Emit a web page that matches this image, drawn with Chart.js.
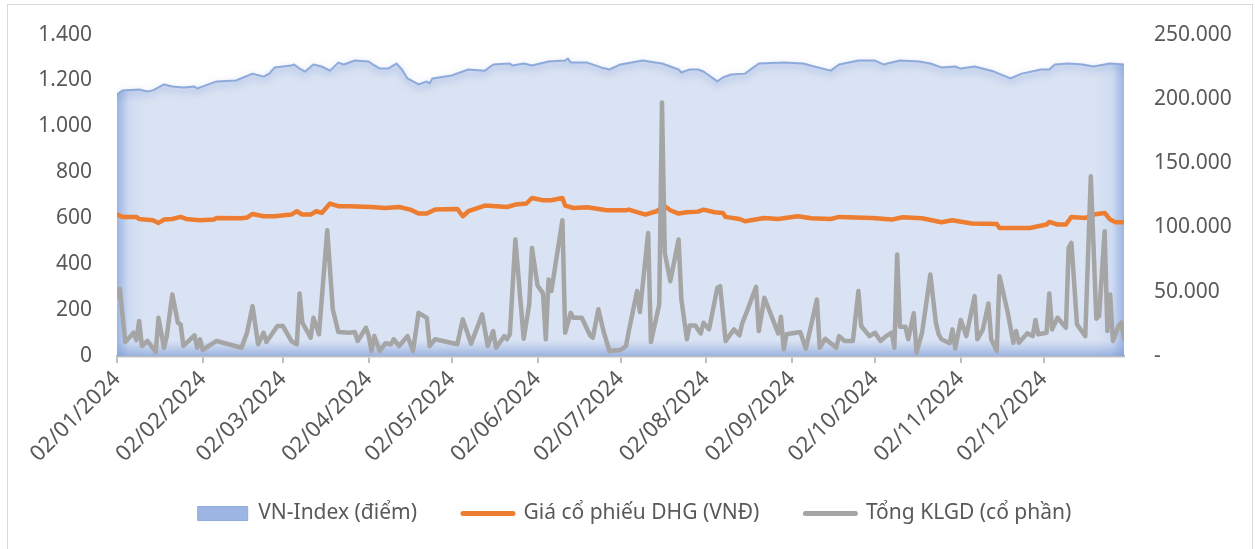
<!DOCTYPE html>
<html>
<head>
<meta charset="utf-8">
<script src="https://cdn.jsdelivr.net/npm/chart.js@4.4.1/dist/chart.umd.min.js"></script>
<style>
  html, body { margin: 0; padding: 0; background: #fff; }
  #wrap { position: relative; width: 1255px; height: 549px; overflow: hidden; }
  #frame { position: absolute; left: 7px; top: 4px; width: 1246px; height: 580px; border: 1.5px solid #d9d9d9; box-sizing: border-box; }
  canvas { position: absolute; left: 0; top: 0; }
</style>
</head>
<body>
<div id="wrap">
  <div id="frame"></div>
  <canvas id="chart" width="1255" height="549"></canvas>
</div>
<script>
// x values: days counted from 02/01/2024
const tickLabels = ["02/01/2024", "02/02/2024", "02/03/2024", "02/04/2024", "02/05/2024", "02/06/2024",
    "02/07/2024", "02/08/2024", "02/09/2024", "02/10/2024", "02/11/2024", "02/12/2024"];

const vnDays = [0, 2, 8, 11, 13, 17, 20, 24, 28, 29, 33, 36, 43, 49, 53, 55, 57, 63, 64, 66, 68, 71, 74, 77, 80,
    82, 86, 91, 92, 95, 98, 101, 103, 105, 109, 112, 113, 114, 121, 127, 133, 136, 142, 143, 147, 150, 156, 162,
    163, 164, 170, 175, 178, 182, 190, 197, 203, 204, 207, 210, 212, 217, 219, 222, 227, 232, 241, 248, 252, 258,
    261, 268, 274, 277, 283, 290, 294, 298, 303, 305, 310, 317, 323, 327, 334, 337, 339, 344, 349, 353, 359, 364];
const vnIndex = [1139, 1157, 1161, 1152, 1157, 1183, 1174, 1170, 1174, 1165, 1183, 1196, 1200, 1230, 1217, 1230,
    1257, 1265, 1270, 1252, 1239, 1270, 1261, 1243, 1278, 1270, 1287, 1283, 1274, 1252, 1252, 1274, 1248, 1209,
    1183, 1196, 1187, 1209, 1222, 1248, 1243, 1270, 1274, 1265, 1274, 1265, 1283, 1287, 1296, 1278, 1278, 1257,
    1248, 1270, 1287, 1274, 1248, 1235, 1248, 1248, 1239, 1196, 1213, 1226, 1230, 1274, 1278, 1274, 1261, 1243,
    1270, 1287, 1287, 1270, 1287, 1283, 1274, 1257, 1261, 1252, 1261, 1239, 1209, 1230, 1248, 1248, 1270, 1274,
    1270, 1261, 1274, 1270];

const dhgDays = [0, 2, 7, 8, 13, 15, 17, 20, 23, 25, 30, 35, 36, 45, 47, 49, 53, 57, 63, 65, 67, 70, 72, 74, 77,
    80, 84, 92, 97, 102, 106, 109, 112, 115, 123, 125, 127, 133, 141, 144, 148, 150, 154, 157, 161, 162, 165, 170,
    177, 184, 185, 191, 195, 198, 200, 203, 206, 210, 212, 216, 219, 220, 225, 227, 234, 239, 246, 251, 258, 261,
    273, 280, 284, 291, 298, 302, 309, 318, 319, 330, 336, 337, 340, 343, 345, 350, 353, 357, 359, 361, 364];
const dhgPrice = [110000, 108200, 108200, 106600, 105600, 103500, 106100, 106600, 108200, 106600, 105600, 106100,
    107400, 107100, 107700, 110500, 108700, 108700, 110000, 112600, 110000, 110000, 112600, 111300, 118600, 116500,
    116500, 115900, 115100, 115900, 113900, 110800, 110800, 113900, 114400, 108700, 112600, 117000, 115900, 117800,
    118600, 122900, 121100, 121100, 122900, 117000, 115100, 115700, 113400, 113400, 113900, 110000, 112600, 116500,
    113400, 110800, 111800, 112300, 113900, 111800, 111300, 108200, 106600, 104800, 107400, 106600, 108700, 107100,
    106600, 108200, 107400, 106100, 107900, 107100, 104000, 105600, 103000, 102700, 99600, 99600, 102300, 104300,
    102300, 102300, 108200, 107400, 110000, 111300, 106100, 104000, 104000];

const klgdDays = [0, 1, 3, 5, 6, 7, 8, 9, 11, 14, 15, 17, 18, 20, 22, 23, 24, 28, 29, 30, 31, 36, 45, 47, 49, 51,
    53, 54, 58, 60, 63, 65, 66, 67, 70, 71, 73, 76, 78, 80, 84, 86, 87, 90, 91, 92, 93, 95, 97, 99, 100, 102, 105,
    107, 109, 112, 113, 115, 123, 125, 128, 132, 134, 136, 137, 140, 141, 142, 144, 147, 149, 150, 152, 154, 155,
    156, 157, 161, 162, 164, 165, 168, 171, 172, 174, 176, 178, 182, 184, 185, 188, 189, 192, 193, 196, 197, 198,
    200, 203, 204, 206, 207, 209, 211, 212, 214, 217, 218, 220, 223, 225, 226, 228, 231, 232, 234, 239, 240, 241,
    242, 247, 249, 253, 254, 256, 260, 261, 263, 266, 268, 269, 272, 274, 276, 278, 280, 281, 282, 283, 285, 286,
    288, 289, 291, 294, 296, 297, 298, 301, 302, 303, 305, 307, 310, 311, 313, 315, 316, 318, 319, 322, 324, 325,
    326, 329, 331, 332, 333, 336, 337, 338, 340, 343, 344, 345, 347, 350, 352, 354, 355, 357, 358, 359, 360, 362,
    363, 364];
const klgdVolume = [46600, 52300, 10900, 15500, 18100, 12400, 27200, 7800, 11700, 3100, 29700, 6400, 15500, 47900,
    25900, 24600, 7800, 16100, 6400, 13000, 4700, 11700, 6400, 18100, 38800, 9100, 18100, 10900, 23300, 23300, 11700,
    9100, 48700, 25900, 14200, 29700, 16900, 97800, 36300, 18600, 18100, 18600, 11700, 22000, 15500, 3900, 15500,
    3900, 9900, 9100, 13000, 7800, 15500, 3900, 33600, 29700, 7800, 13000, 9100, 28500, 9500, 32400, 7800, 19400,
    6400, 15500, 13000, 16900, 90600, 13400, 40100, 84100, 54900, 48700, 13000, 59600, 50500, 105600, 18100, 33600,
    29700, 29700, 16100, 14200, 36300, 18100, 3900, 4700, 7800, 19400, 50500, 34200, 95700, 10900, 40100, 197200,
    80200, 58200, 90600, 44000, 13000, 23800, 23800, 17600, 25900, 20700, 53000, 54400, 11700, 20700, 16100, 25400,
    36300, 53800, 19400, 45300, 17600, 30500, 5200, 16900, 18600, 5700, 44000, 6400, 13400, 6400, 15500, 11700,
    11700, 50500, 23300, 15500, 18100, 11700, 15500, 18100, 6400, 79000, 22800, 22800, 13000, 33200, 2600, 18100,
    63400, 25900, 16900, 13000, 9900, 20700, 5700, 28000, 15500, 46600, 13000, 20700, 40900, 13000, 3900, 62100,
    33600, 10300, 19400, 10300, 17600, 15500, 28000, 16900, 18100, 48700, 20700, 29700, 22000, 84100, 88000, 24600,
    15500, 139800, 29000, 31100, 97100, 19400, 47900, 11700, 23300, 25900, 13400];

const seriesNames = ["VN-Index (điểm)", "Giá cổ phiếu DHG (VNĐ)", "Tổng KLGD (cổ phần)"];

const dayOf = s => {
    const [d, m, y] = s.split("/").map(Number);
    return (Date.UTC(y, m - 1, d) - Date.UTC(2024, 0, 2)) / 864e5;
};
const tickDays = tickLabels.map(dayOf);
const toPoints = (days, vals) => days.map((d, i) => ({ x: d, y: vals[i] }));
const dots = v => String(v).replace(/\B(?=(\d{3})+(?!\d))/g, ".");

const textColor = "#595959";
Chart.defaults.font.family = "'Noto Sans', sans-serif";
Chart.defaults.font.size = 21;
Chart.defaults.color = textColor;

// soft blue edges of the VN-Index area
const areaGlow = {
    id: "areaGlow",
    beforeDatasetDraw(chart, args) {
        if (args.index !== 0) return;
        const ctx = chart.ctx;
        ctx.save();
        ctx.shadowColor = "rgba(68, 114, 196, 0.5)";
        ctx.shadowBlur = 7;
        ctx.shadowOffsetY = 3;
    },
    afterDatasetDraw(chart, args) {
        if (args.index !== 0) return;
        const ctx = chart.ctx;
        ctx.restore();
        const a = chart.chartArea;
        const g = ctx.createLinearGradient(0, a.bottom - 16, 0, a.bottom);
        g.addColorStop(0, "rgba(143, 170, 220, 0)");
        g.addColorStop(1, "rgba(120, 152, 214, 0.65)");
        ctx.save();
        ctx.fillStyle = g;
        ctx.fillRect(a.left, a.bottom - 16, a.right - a.left, 16);
        ctx.restore();
    }
};

const legendItems = [
    { text: seriesNames[0], fillStyle: "#9db5e2", strokeStyle: "#8faadc", lineWidth: 1, pointStyle: "rect", datasetIndex: 0, fontColor: textColor },
    { text: seriesNames[1], fillStyle: "#ed7d31", strokeStyle: "#ed7d31", lineWidth: 5, lineCap: "round", pointStyle: "line", datasetIndex: 1, fontColor: textColor },
    { text: seriesNames[2], fillStyle: "#a5a5a5", strokeStyle: "#a5a5a5", lineWidth: 5, lineCap: "round", pointStyle: "line", datasetIndex: 2, fontColor: textColor }
];

new Chart(document.getElementById("chart"), {
    type: "line",
    data: {
        datasets: [
            {
                label: seriesNames[0],
                data: toPoints(vnDays, vnIndex),
                yAxisID: "y",
                order: 3,
                fill: "origin",
                borderColor: "#8eaadb",
                borderWidth: 2,
                backgroundColor: (c) => {
                    const a = c.chart.chartArea;
                    if (!a) return "#dae3f3";
                    const g = c.chart.ctx.createLinearGradient(a.left, 0, a.right, 0);
                    g.addColorStop(0, "#9cb5e3");
                    g.addColorStop(0.012, "#cfdbf1");
                    g.addColorStop(0.03, "#dae3f3");
                    g.addColorStop(0.97, "#dae3f3");
                    g.addColorStop(0.988, "#cfdbf1");
                    g.addColorStop(1, "#9cb5e3");
                    return g;
                }
            },
            {
                label: seriesNames[1],
                data: toPoints(dhgDays, dhgPrice),
                yAxisID: "y1",
                order: 2,
                borderColor: "#ed7d31",
                backgroundColor: "#ed7d31",
                borderWidth: 4.5,
                fill: false
            },
            {
                label: seriesNames[2],
                data: toPoints(klgdDays, klgdVolume),
                yAxisID: "y1",
                order: 1,
                borderColor: "#a5a5a5",
                backgroundColor: "#a5a5a5",
                borderWidth: 4.5,
                fill: false
            }
        ]
    },
    options: {
        responsive: false,
        animation: false,
        events: [],
        layout: { autoPadding: false, padding: { top: 33, left: 14, right: 0, bottom: 15 } },
        elements: {
            point: { radius: 0, hoverRadius: 0 },
            line: { tension: 0, borderJoinStyle: "round", borderCapStyle: "round" }
        },
        scales: {
            x: {
                type: "linear",
                min: 0,
                max: 364,
                afterBuildTicks: (s) => { s.ticks = tickDays.map(v => ({ value: v })); },
                afterFit: (s) => {
                    s.height = 101;
                    // the rotated labels reach into the legend band, so do not clip them
                    s._computeLabelArea = () => undefined;
                },
                grid: { display: true, drawOnChartArea: false, drawTicks: true, tickLength: 7, color: "#bfbfbf", lineWidth: 2 },
                border: { display: true, color: "#bfbfbf", width: 2.5 },
                ticks: {
                    autoSkip: false,
                    minRotation: 45,
                    maxRotation: 45,
                    padding: 3,
                    font: { size: 22 },
                    callback: (v) => tickLabels[tickDays.indexOf(v)]
                }
            },
            y: {
                position: "left",
                min: 0,
                max: 1400,
                afterFit: (s) => { s.width = 103; },
                grid: { display: false },
                border: { display: false },
                ticks: { stepSize: 200, padding: 17, callback: (v) => dots(v) }
            },
            y1: {
                position: "right",
                min: 0,
                max: 250000,
                afterFit: (s) => { s.width = 131; },
                grid: { display: false },
                border: { display: false },
                ticks: { stepSize: 50000, padding: 22, callback: (v) => v === 0 ? "-" : dots(v) }
            }
        },
        plugins: {
            tooltip: { enabled: false },
            legend: {
                position: "bottom",
                labels: {
                    usePointStyle: true,
                    pointStyleWidth: 50,
                    boxHeight: 14,
                    padding: 46,
                    color: textColor,
                    font: { size: 21 },
                    generateLabels: () => legendItems
                }
            }
        }
    },
    plugins: [areaGlow]
});
</script>
</body>
</html>
